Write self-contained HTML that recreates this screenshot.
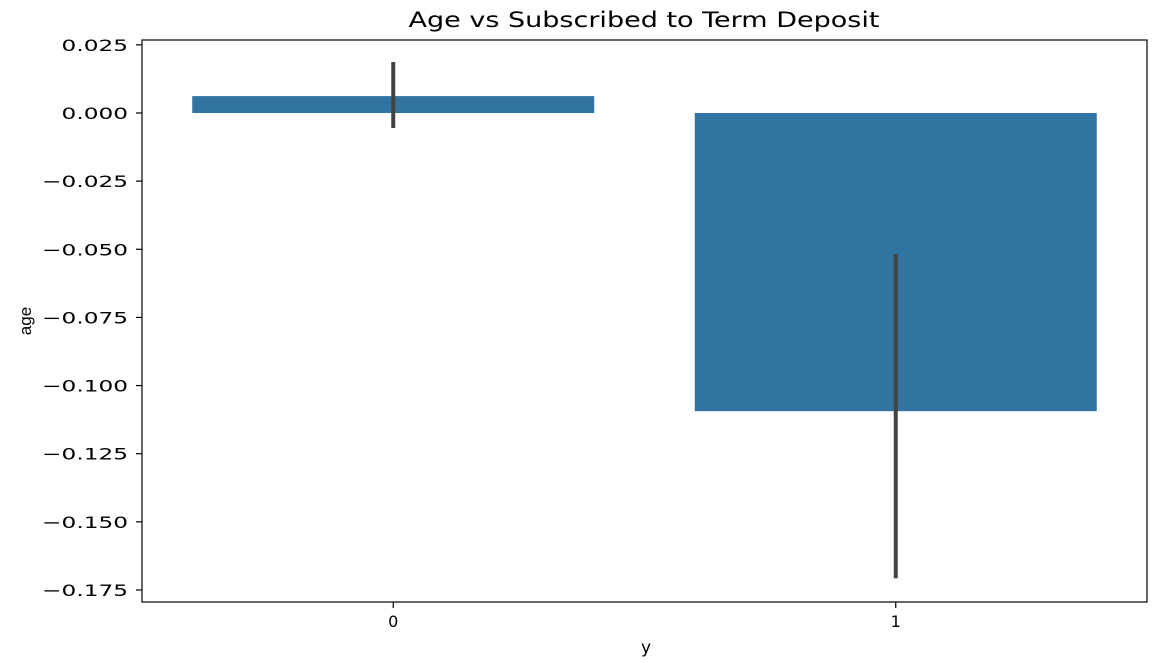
<!DOCTYPE html>
<html><head><meta charset="utf-8"><style>
html,body{margin:0;padding:0;background:#fff;}
svg{display:block;font-family:"DejaVu Sans","Liberation Sans",sans-serif;}
</style></head><body>
<svg id="chart" width="1162" height="663">
<text x="644" y="27" text-anchor="middle" font-size="21" textLength="471" lengthAdjust="spacingAndGlyphs" fill="#000">Age vs Subscribed to Term Deposit</text>
<g id="plot"></g>
<text x="646" y="653" text-anchor="middle" font-size="17">y</text>
<text transform="translate(31,321) rotate(-90)" text-anchor="middle" font-size="17" font-family="Liberation Sans Narrow, Liberation Sans, sans-serif">age</text>
</svg>
<script>
const categories = ["0","1"];
const values = [0.0062, -0.1094];
const errLow = [-0.0055, -0.1707];
const errHigh = [0.0187, -0.0518];
const yTicks = [0.025,0,-0.025,-0.05,-0.075,-0.1,-0.125,-0.15,-0.175];
const yTickLabels = ["0.025","0.000","\u22120.025","\u22120.050","\u22120.075","\u22120.100","\u22120.125","\u22120.150","\u22120.175"];
const L=142,R=1147,T=40,B=602;
const y = v => 113 - v/0.025*68.14;
const x = i => L + (i+0.5)*(R-L)/categories.length;
const band = (R-L)/categories.length*0.8;
const ns="http://www.w3.org/2000/svg";
const g=document.getElementById('plot');
function mk(t,a){const e=document.createElementNS(ns,t);for(const k in a)e.setAttribute(k,a[k]);g.appendChild(e);return e;}
categories.forEach((c,i)=>{
  const y0=y(0),yv=y(values[i]);
  const r=mk('rect',{x:x(i)-band/2,y:Math.min(y0,yv),width:band,height:Math.abs(yv-y0),fill:'#3274a1'});
  
  
  const l=mk('line',{x1:x(i),x2:x(i),y1:y(errLow[i]),y2:y(errHigh[i]),stroke:'#424242','stroke-width':4});
  
  
  mk('line',{x1:x(i),x2:x(i),y1:B,y2:B+6,stroke:'#000','stroke-width':1.2});
  const t=mk('text',{x:x(i),y:B+25,'text-anchor':'middle','font-size':16});
  t.textContent=c;
  
  
});
yTicks.forEach((v,i)=>{
  mk('line',{x1:L-6,x2:L,y1:y(v),y2:y(v),stroke:'#000','stroke-width':1.2});
  const t=mk('text',{x:L-14,y:y(v)+6,'text-anchor':'end','font-size':16});
  t.textContent=yTickLabels[i];
  
  
  const w=t.getComputedTextLength();
  if(w>0){t.setAttribute('textLength',w*1.45);t.setAttribute('lengthAdjust','spacingAndGlyphs');}
});
const f=mk('rect',{x:L,y:T,width:R-L,height:B-T,fill:'none',stroke:'#000','stroke-width':1.2});


</script>
</body></html>
